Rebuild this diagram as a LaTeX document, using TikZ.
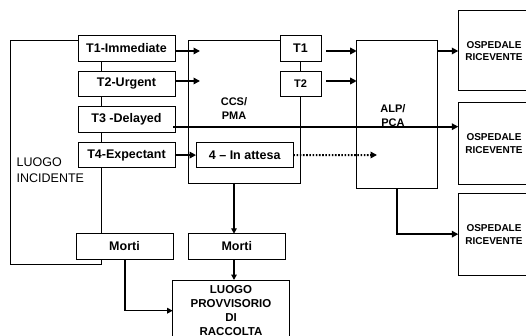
\documentclass[tikz,border=0pt]{standalone}
\usepackage{fontspec}
\setmainfont{Liberation Sans}
\usetikzlibrary{arrows.meta,calc}
\begin{document}
\begin{tikzpicture}[x=1pt,y=-1pt,
  box/.style={draw=black,line width=0.8pt,fill=white,inner sep=0pt,outer sep=0pt},
  tbox/.style={box,minimum width=97pt,minimum height=25.5pt,font=\bfseries\fontsize{12.5}{15}\selectfont},
  obox/.style={draw=black,line width=0.8pt,inner sep=0pt,outer sep=0pt},
  lbl/.style={align=center,inner sep=0pt,font=\bfseries\fontsize{11}{14}\selectfont},
  olbl/.style={align=center,inner sep=0pt,font=\bfseries\fontsize{10}{12.7}\selectfont},
  arr/.style={line width=1.8pt,-{Triangle[length=6.5pt,width=6.5pt]}},
  thin/.style={line width=0.8pt}]
\useasboundingbox (0,0) rectangle (526,336);
\fill[white] (0,0) rectangle (526,336);
% big outlines
\node[obox,minimum width=91.7pt,minimum height=224pt] (inc) at (55.85,152) {};
\node[obox,minimum width=112.2pt,minimum height=142.3pt] (ccs) at (244.6,111.85) {};
\node[obox,minimum width=81pt,minimum height=147.6pt] (alp) at (397.2,114.5) {};
\node[obox,minimum width=75pt,minimum height=80.7pt] (osp1) at (495.8,50.35) {};
\node[obox,minimum width=75pt,minimum height=81.3pt] (osp2) at (495.8,143.35) {};
\node[obox,minimum width=75pt,minimum height=81.7pt] (osp3) at (495.8,234.15) {};
\node[obox,minimum width=116.6pt,minimum height=70pt] (prov) at (231,315) {};
% texts of big boxes
\node[anchor=west,align=left,inner sep=0pt,font=\fontsize{12.5}{16.6}\selectfont] (inctxt) at (16.5,170) {LUOGO\\INCIDENTE};
\node[lbl] (ccstxt) at (234,109) {CCS/\\PMA};
\node[lbl] (alptxt) at (393,115.5) {ALP/\\PCA};
\node[olbl] (o1txt) at (494,51) {OSPEDALE\\RICEVENTE};
\node[olbl] (o2txt) at (494,143.7) {OSPEDALE\\RICEVENTE};
\node[olbl] (o3txt) at (494,234.5) {OSPEDALE\\RICEVENTE};
\node[lbl,font=\bfseries\fontsize{11.5}{14.1}\selectfont] (provtxt) at (231,310.5) {LUOGO\\PROVVISORIO\\DI\\RACCOLTA};
% triage boxes
\node[tbox] (t1) at (126.5,48.2) {T1-Immediate};
\node[tbox] (t2) at (126.5,83.8) {T2-Urgent};
\node[tbox] (t3) at (126.5,119.5) {T3 -Delayed};
\node[tbox] (t4) at (126.5,155) {T4-Expectant};
\node[tbox] (m1) at (124.5,246.5) {Morti};
\node[tbox,minimum width=96.3pt] (m2) at (236.8,246.5) {Morti};
\node[tbox,minimum width=41pt] (rt1) at (300.5,48.2) {T1};
\node[tbox,minimum width=41pt,font=\bfseries\fontsize{11}{13}\selectfont] (rt2) at (300.5,83.8) {T2};
\node[tbox,minimum width=97.3pt,minimum height=25pt] (att) at (244.7,155.1) {4 -- In attesa};
% coordinates
\coordinate (a1) at (200,51);
\coordinate (a2) at (200,81);
\coordinate (b1) at (326,51);
\coordinate (b2) at (326,81);
\coordinate (dend) at (377,155);
\coordinate (alpb) at (396.7,188.3);
\coordinate (ccsb) at (234,183);
\coordinate (m2b) at (234,259);
\coordinate (m1b) at (125,259);
% arrows
\draw[arr] (t1.east |- a1) -- (a1);
\draw[arr] (t2.east |- a2) -- (a2);
\draw[arr] ($(t3.east)+(-2,7.2)$) -- (osp2.west |- {$(t3.east)+(0,7.2)$});
\draw[arr] (t4.east) -- (att.west);
\draw[line width=2pt,dash pattern=on 1.6pt off 1.6pt,-{Triangle[length=6.5pt,width=6.5pt]}] (att.east) -- (dend);
\draw[arr] (b1) -- (alp.west |- b1);
\draw[arr] (b2) -- (alp.west |- b2);
\draw[arr] (alp.east |- b1) -- (osp1.west |- b1);
\draw[arr] (alpb) |- (osp3.west);
\draw[line width=1.5pt,-{Triangle[length=5.5pt,width=5.5pt]}] (ccsb) -- (ccsb |- m2.north);
\draw[line width=1.5pt,-{Triangle[length=5.5pt,width=5.5pt]}] (m2b) -- (m2b |- prov.north);
\draw[line width=1.5pt,-{Triangle[length=5.5pt,width=5.5pt]}] (m1b) |- (prov.west |- 0,310.7);
\end{tikzpicture}
\end{document}
